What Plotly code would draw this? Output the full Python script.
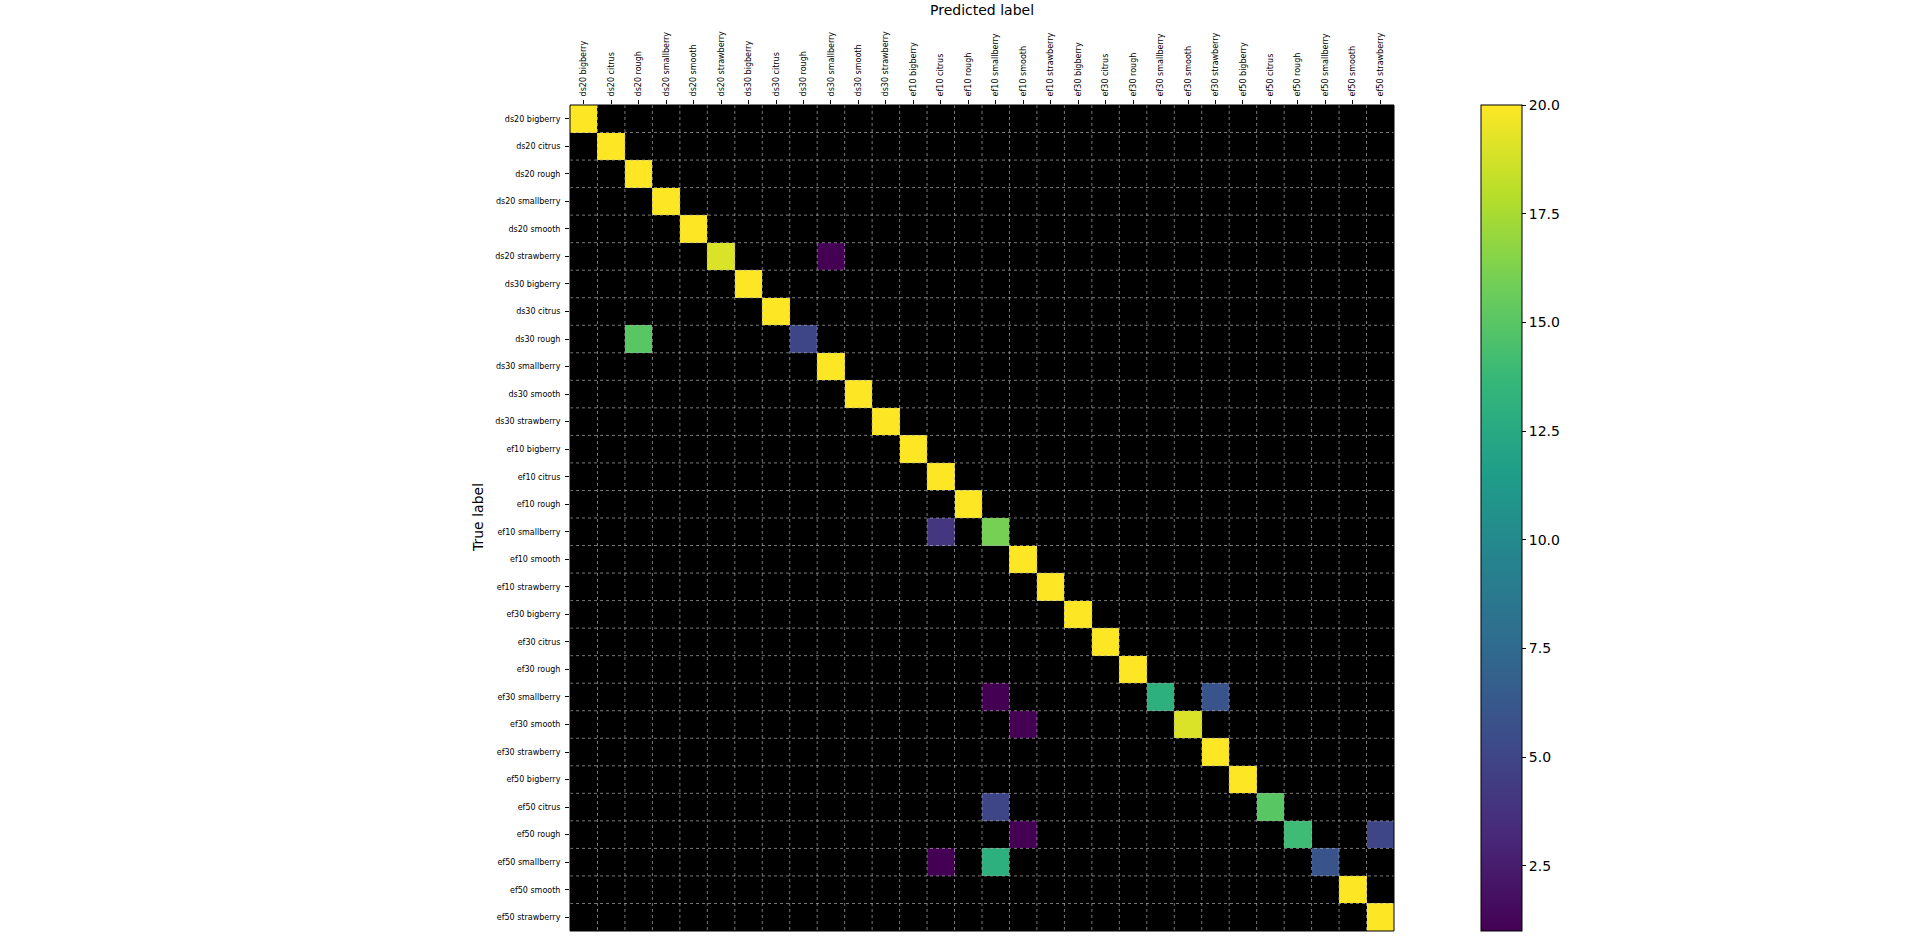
import plotly.graph_objects as go

labels = [
    "ds20 bigberry", "ds20 citrus", "ds20 rough", "ds20 smallberry", "ds20 smooth", "ds20 strawberry",
    "ds30 bigberry", "ds30 citrus", "ds30 rough", "ds30 smallberry", "ds30 smooth", "ds30 strawberry",
    "ef10 bigberry", "ef10 citrus", "ef10 rough", "ef10 smallberry", "ef10 smooth", "ef10 strawberry",
    "ef30 bigberry", "ef30 citrus", "ef30 rough", "ef30 smallberry", "ef30 smooth", "ef30 strawberry",
    "ef50 bigberry", "ef50 citrus", "ef50 rough", "ef50 smallberry", "ef50 smooth", "ef50 strawberry",
]

# diagonal counts (correct predictions), one per true label
diagonal = [20, 20, 20, 20, 20, 19, 20, 20, 5, 20, 20, 20, 20, 20, 20, 16,
            20, 20, 20, 20, 20, 13, 19, 20, 20, 15, 14, 6, 20, 20]

# off-diagonal confusions: (true index, predicted index, count)
off_true = [5, 8, 15, 21, 21, 22, 25, 26, 26, 27, 27]
off_pred = [9, 2, 13, 15, 23, 16, 15, 16, 29, 13, 15]
off_count = [1, 15, 4, 1, 6, 1, 5, 1, 5, 1, 13]

n = len(labels)
z = [[None] * n for _ in range(n)]
for i, v in enumerate(diagonal):
    z[i][i] = v if v > 0 else None
for t, p, c in zip(off_true, off_pred, off_count):
    z[t][p] = c

W, H = 1907, 948
L, R, T, B = 570, 1394, 105, 931
pw, ph = R - L, B - T

fig = go.Figure()
fig.add_trace(go.Heatmap(
    z=z, x=list(range(n)), y=list(range(n)),
    colorscale="Viridis", zmin=1, zmax=20,
    hoverongaps=False,
    colorbar=dict(
        x=(1481 - L) / pw, xanchor="left", xpad=0,
        y=0.5, yanchor="middle", ypad=0,
        len=1, lenmode="fraction", thickness=41, thicknessmode="pixels",
        outlinecolor="black", outlinewidth=1,
        tickvals=[2.5, 5, 7.5, 10, 12.5, 15, 17.5, 20],
        ticktext=["2.5", "5.0", "7.5", "10.0", "12.5", "15.0", "17.5", "20.0"],
        ticks="outside", ticklen=4, tickcolor="black",
        tickfont=dict(family="DejaVu Sans", size=14, color="black"),
    ),
))

shapes = []
for k in range(1, n):
    b = k - 0.5
    shapes.append(dict(type="line", xref="x", yref="y", x0=b, x1=b, y0=-0.5, y1=n - 0.5,
                       line=dict(color="rgba(170,170,170,0.9)", width=0.8, dash="dot"), layer="above"))
    shapes.append(dict(type="line", xref="x", yref="y", y0=b, y1=b, x0=-0.5, x1=n - 0.5,
                       line=dict(color="rgba(170,170,170,0.9)", width=0.8, dash="dot"), layer="above"))
shapes.append(dict(type="rect", xref="paper", yref="paper", x0=0, x1=1, y0=0, y1=1,
                   line=dict(color="black", width=1), layer="above"))

fig.update_layout(
    width=W, height=H, autosize=False,
    margin=dict(l=L, r=W - R, t=T, b=H - B, pad=0),
    paper_bgcolor="white", plot_bgcolor="black",
    font=dict(family="DejaVu Sans", color="black"),
    shapes=shapes,
    annotations=[
        dict(text="Predicted label", xref="paper", yref="paper", x=0.5, y=1 + (T - 10) / ph,
             xanchor="center", yanchor="middle", showarrow=False,
             font=dict(family="DejaVu Sans", size=14, color="black")),
        dict(text="True label", xref="paper", yref="paper", x=(478 - L) / pw, y=0.5,
             xanchor="center", yanchor="middle", textangle=-90, showarrow=False,
             font=dict(family="DejaVu Sans", size=14, color="black")),
    ],
)
fig.update_xaxes(
    side="top", range=[-0.5, n - 0.5], tickmode="array",
    tickvals=list(range(n)), ticktext=labels, tickangle=-90,
    ticks="outside", ticklen=4, tickcolor="black", ticklabelstandoff=2,
    tickfont=dict(family="DejaVu Sans", size=8, color="black"),
    showgrid=False, zeroline=False, showline=False,
)
fig.update_yaxes(
    range=[n - 0.5, -0.5], tickmode="array",
    tickvals=list(range(n)), ticktext=labels,
    ticks="outside", ticklen=4, tickcolor="black", ticklabelstandoff=3,
    tickfont=dict(family="DejaVu Sans", size=8, color="black"),
    showgrid=False, zeroline=False, showline=False,
)

fig.write_html("out.html")
